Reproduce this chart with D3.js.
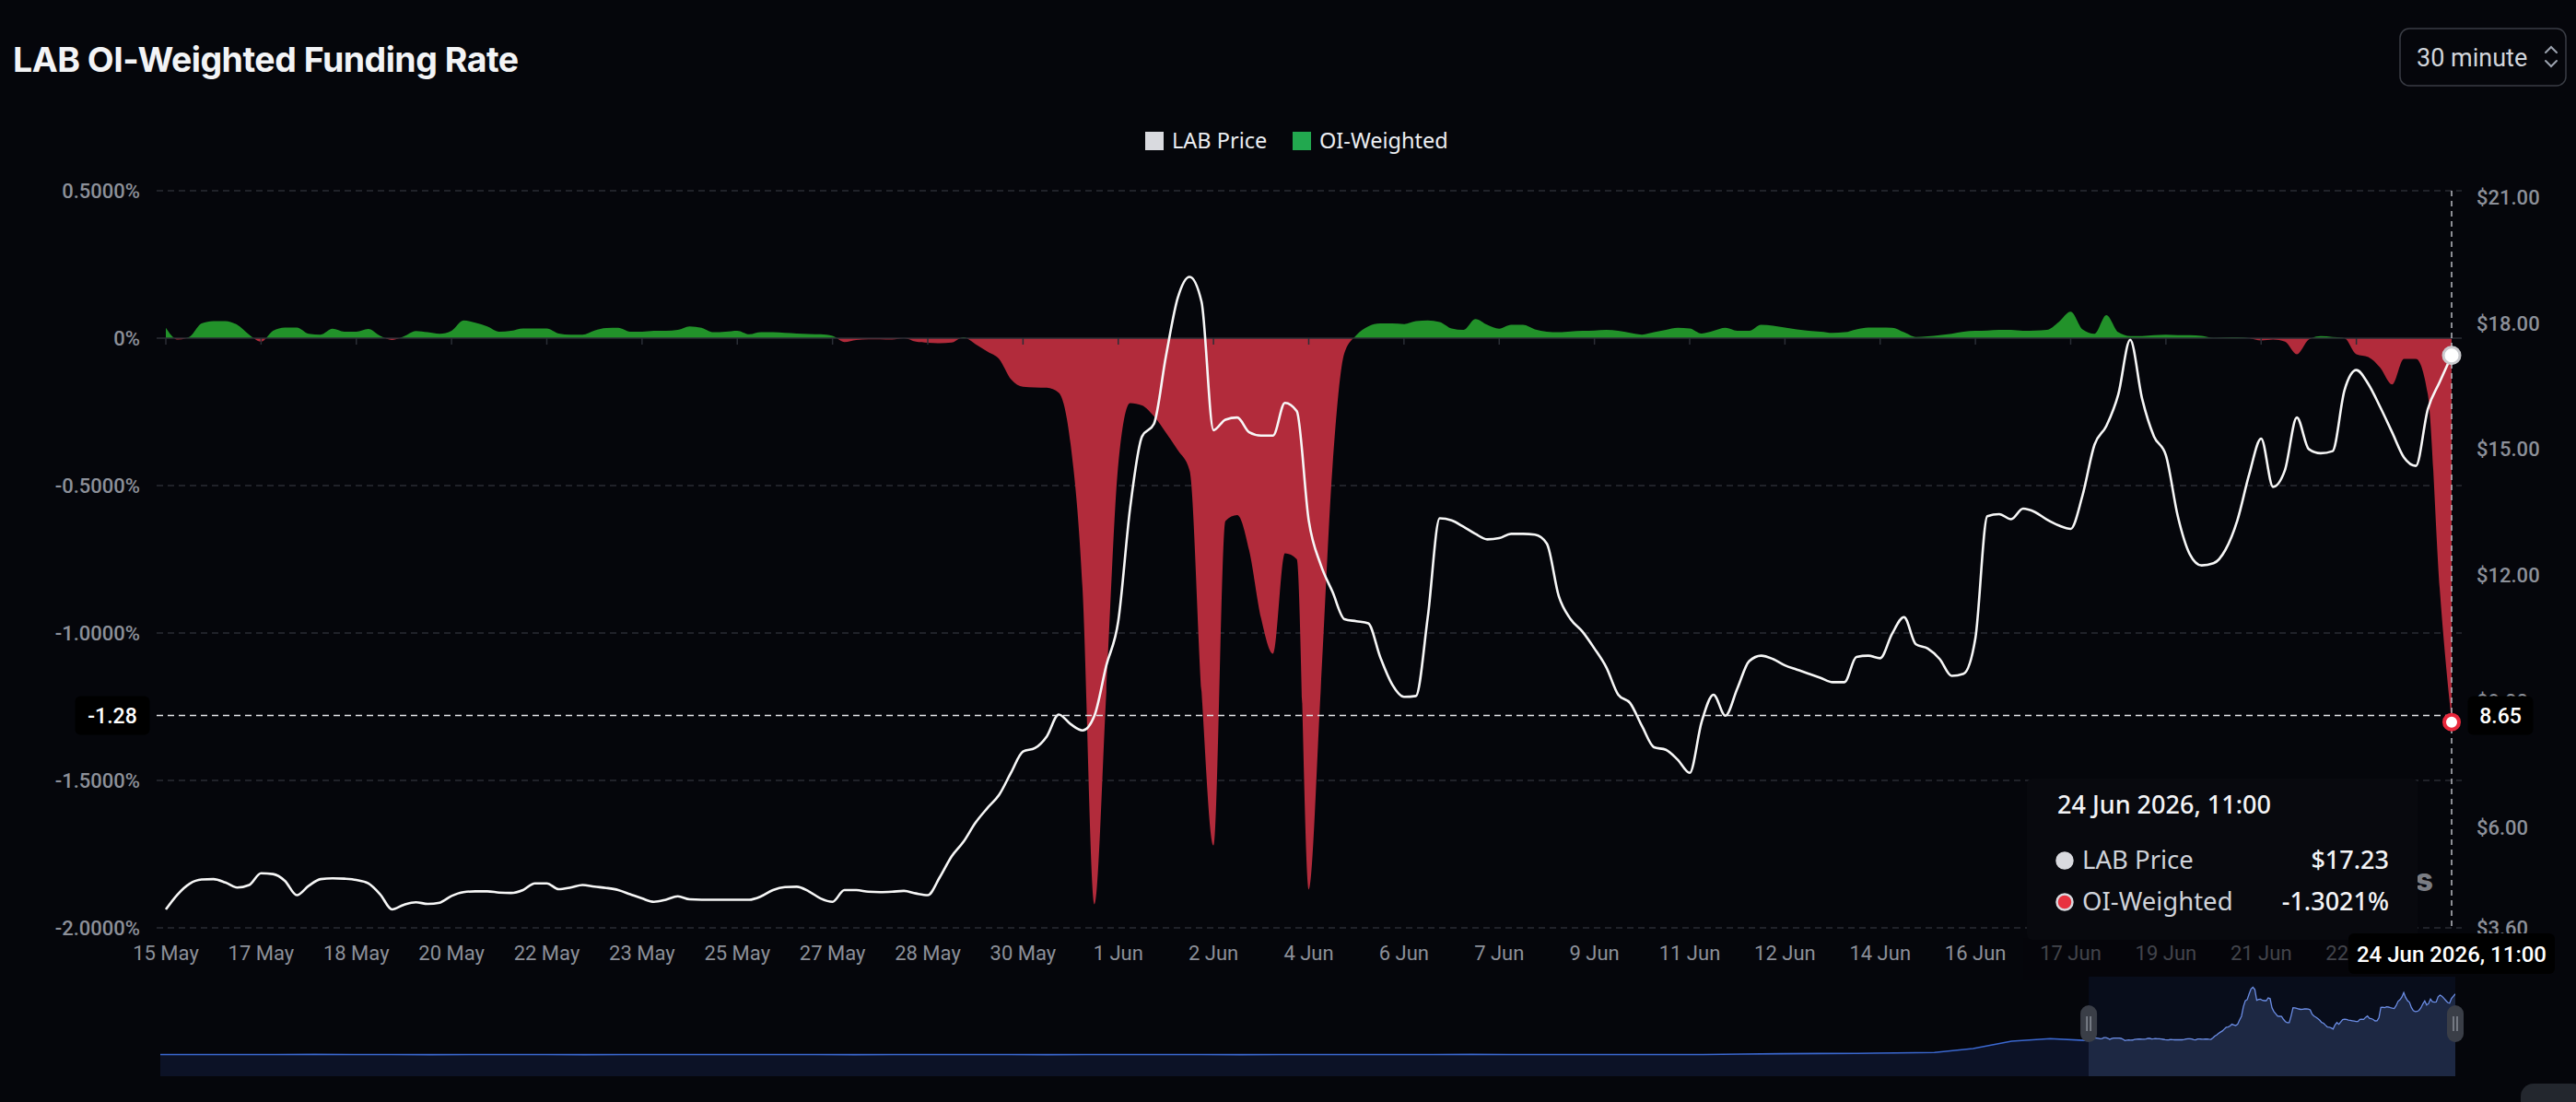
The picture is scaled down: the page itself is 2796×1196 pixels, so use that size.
<!DOCTYPE html>
<html><head><meta charset="utf-8">
<script src="https://cdn.jsdelivr.net/npm/d3@7"></script>
<style>html,body{margin:0;padding:0;background:#05060b;overflow:hidden}</style>
</head><body><svg id="c" width="2796" height="1196"></svg>
<script>
// ---------- DATA ----------
const chartTitle = "LAB OI-Weighted Funding Rate";
const intervalLabel = "30 minute";
const seriesNames = ["LAB Price", "OI-Weighted"];
const startTime = new Date(2026, 4, 15, 11, 0);
const stepHours = 5;
const tickIntervalHours = 40;
const xTickLabels = ["15 May","17 May","18 May","20 May","22 May","23 May","25 May","27 May","28 May","30 May",
  "1 Jun","2 Jun","4 Jun","6 Jun","7 Jun","9 Jun","11 Jun","12 Jun","14 Jun","16 Jun","17 Jun","19 Jun","21 Jun","22 Jun"];
const fundingTicks = [0.5, 0, -0.5, -1, -1.5, -2];
const fundingDomain = [-2, 0.5];
const priceTicks = [3.6, 6, 9, 12, 15, 18, 21];
const priceDomain = [3.6, 21.15];
const crosshairFunding = -1.28;

const labPrice = [4.04,4.40,4.65,4.75,4.76,4.68,4.56,4.62,4.90,4.88,
 4.72,4.38,4.60,4.76,4.78,4.77,4.74,4.66,4.40,4.04,
 4.15,4.21,4.17,4.20,4.36,4.45,4.47,4.47,4.44,4.43,
 4.50,4.66,4.66,4.52,4.56,4.62,4.58,4.55,4.50,4.40,
 4.30,4.22,4.27,4.35,4.28,4.27,4.27,4.27,4.27,4.27,
 4.35,4.50,4.57,4.58,4.47,4.30,4.22,4.50,4.50,4.46,
 4.45,4.46,4.48,4.42,4.38,4.80,5.30,5.65,6.10,6.45,
 6.77,7.30,7.80,7.88,8.16,8.68,8.45,8.30,8.65,9.85,
 10.90,13.60,15.30,15.60,17.20,18.60,19.10,18.50,15.45,15.70,
 15.75,15.40,15.32,15.32,16.10,15.90,13.30,12.25,11.60,10.95,
 10.90,10.85,10.05,9.40,9.10,9.12,11.00,13.35,13.30,13.15,
 12.98,12.85,12.88,12.98,12.98,12.96,12.75,11.50,10.95,10.65,
 10.25,9.80,9.15,8.95,8.40,7.90,7.84,7.60,7.29,8.50,
 9.15,8.65,9.30,9.95,10.08,10.00,9.85,9.75,9.65,9.55,
 9.45,9.45,10.05,10.08,10.02,10.60,11.00,10.35,10.25,10.00,
 9.60,9.65,10.50,13.40,13.45,13.33,13.58,13.50,13.32,13.18,
 13.10,13.90,15.10,15.55,16.30,17.60,16.20,15.30,14.85,13.40,
 12.50,12.23,12.28,12.60,13.30,14.40,15.25,14.10,14.50,15.75,
 15.00,14.90,14.95,16.40,16.88,16.55,16.00,15.40,14.80,14.60,
 15.95,16.60,17.23];

const oiWeighted = [0.035,-0.005,0.005,0.050,0.058,0.058,0.045,0.012,-0.012,0.025,
 0.036,0.036,0.015,0.012,0.032,0.022,0.022,0.031,0.008,-0.006,
 0.006,0.024,0.020,0.015,0.025,0.060,0.052,0.040,0.022,0.025,
 0.033,0.033,0.033,0.016,0.012,0.012,0.026,0.034,0.035,0.022,
 0.022,0.025,0.025,0.028,0.040,0.035,0.020,0.022,0.025,0.013,
 0.020,0.020,0.018,0.016,0.014,0.013,0.008,-0.013,-0.006,-0.004,
 -0.004,-0.005,0.000,-0.012,-0.016,-0.017,-0.015,0.003,-0.020,-0.045,
 -0.071,-0.140,-0.165,-0.167,-0.168,-0.185,-0.360,-0.850,-1.920,-1.200,
 -0.430,-0.220,-0.228,-0.265,-0.320,-0.380,-0.450,-1.200,-1.720,-0.620,
 -0.600,-0.720,-0.950,-1.070,-0.730,-0.750,-1.870,-1.200,-0.435,-0.050,
 0.010,0.040,0.050,0.050,0.048,0.058,0.060,0.055,0.033,0.028,
 0.065,0.045,0.032,0.045,0.045,0.030,0.022,0.020,0.023,0.025,
 0.026,0.028,0.025,0.018,0.012,0.020,0.028,0.035,0.033,0.016,
 0.025,0.035,0.025,0.025,0.045,0.042,0.036,0.030,0.025,0.022,
 0.018,0.020,0.030,0.036,0.036,0.035,0.020,0.004,0.006,0.010,
 0.015,0.022,0.025,0.026,0.028,0.028,0.025,0.026,0.028,0.055,
 0.090,0.030,0.015,0.078,0.020,0.007,0.007,0.010,0.012,0.010,
 0.010,0.008,0.001,0.002,0.003,0.000,-0.008,-0.005,-0.012,-0.055,
 -0.005,0.007,0.004,0.000,-0.055,-0.064,-0.100,-0.157,-0.070,-0.070,
 -0.190,-0.850,-1.3021];

// earlier history shown only in the navigator (price, every navStepHours)
const navStepHours = 101;
const navHistory = [0.12,0.10,0.10,0.11,0.13,0.12,0.10,0.09,0.10,0.11,
 0.10,0.09,0.10,0.10,0.12,0.11,0.10,0.10,0.09,0.10,
 0.10,0.11,0.10,0.09,0.10,0.12,0.10,0.10,0.09,0.10,
 0.10,0.11,0.10,0.12,0.13,0.11,0.10,0.10,0.11,0.10,
 0.12,0.25,0.35,0.40,0.45,0.55,0.70,1.80,3.90,4.60];

// ---------- CHART ----------
const svg = d3.select('#c');
const W = 2796, H = 1196;
const plot = {left:170, right:2672, top:207, bottom:1007};
const dataLeft = 180, dataRight = 2661;
const axisFont = "Roboto, 'Noto Sans', sans-serif";
const uiFont = "'Noto Sans', 'Open Sans', sans-serif";
const gridColor = "#2a2d34", axisText = "#8c9099";

svg.append('rect').attr('width', W).attr('height', H).attr('fill', '#05060b');

const times = labPrice.map((_, i) => d3.timeHour.offset(startTime, i * stepHours));
const endTime = times[times.length - 1];
const x = d3.scaleTime().domain([startTime, endTime]).range([dataLeft, dataRight]);
const yF = d3.scaleLinear().domain(fundingDomain).range([plot.bottom, plot.top]);
const yP = d3.scaleLinear().domain(priceDomain).range([plot.bottom, plot.top]);
const defs = svg.append('defs');

// Title
const title = svg.append('text').attr('x', 14).attr('y', 78)
  .attr('font-family', "Inter, 'Noto Sans', sans-serif").attr('font-weight', 700)
  .attr('font-size', 38).attr('fill', '#f3f4f6').attr('letter-spacing', -0.5).text(chartTitle);
{ const w = title.node().getComputedTextLength(); title.attr('font-size', 38 * 549 / w); }

// Interval selector
const sel = svg.append('g');
sel.append('rect').attr('x', 2605).attr('y', 31).attr('width', 180).attr('height', 62).attr('rx', 10)
  .attr('fill', 'none').attr('stroke', '#3a3d45').attr('stroke-width', 1.5);
sel.append('text').attr('x', 2623).attr('y', 72).attr('font-family', axisFont).attr('font-size', 27)
  .attr('fill', '#d1d5db').text(intervalLabel);
sel.append('path').attr('d', 'M2763,57 L2769,51 L2775,57 M2763,66 L2769,72 L2775,66')
  .attr('fill', 'none').attr('stroke', '#9ca3af').attr('stroke-width', 2).attr('stroke-linecap', 'round');

// Legend
const legendColors = ['#d9dadf', '#22a84f'];
const legendX = [1243, 1403];
seriesNames.forEach((n, i) => {
  svg.append('rect').attr('x', legendX[i]).attr('y', 143).attr('width', 20).attr('height', 20).attr('fill', legendColors[i]);
  svg.append('text').attr('x', legendX[i] + 29).attr('y', 161).attr('font-family', uiFont).attr('font-size', 23.5)
    .attr('fill', '#eceef2').text(n);
});

// Grid
fundingTicks.filter(d => d !== 0).forEach(d => {
  svg.append('line').attr('x1', plot.left).attr('x2', plot.right).attr('y1', yF(d)).attr('y2', yF(d))
    .attr('stroke', gridColor).attr('stroke-width', 1.5).attr('stroke-dasharray', '7,5');
});

// Left axis labels
fundingTicks.forEach(d => {
  svg.append('text').attr('x', 152).attr('y', yF(d)).attr('dy', '0.36em').attr('text-anchor', 'end')
    .attr('font-family', axisFont).attr('font-weight', 500).attr('font-size', 22).attr('fill', axisText)
    .text(d === 0 ? '0%' : d.toFixed(4) + '%');
});
// Right axis labels
priceTicks.forEach(d => {
  svg.append('text').attr('x', 2688).attr('y', yP(d)).attr('dy', '0.36em')
    .attr('font-family', axisFont).attr('font-weight', 500).attr('font-size', 22).attr('fill', axisText)
    .text('$' + d.toFixed(2));
});

// Funding areas (green above zero, red below)
defs.append('clipPath').attr('id', 'clipPos').append('rect')
  .attr('x', plot.left).attr('y', plot.top - 50).attr('width', plot.right - plot.left).attr('height', yF(0) - plot.top + 50);
defs.append('clipPath').attr('id', 'clipNeg').append('rect')
  .attr('x', plot.left).attr('y', yF(0)).attr('width', plot.right - plot.left).attr('height', plot.bottom - yF(0) + 20);
const area = d3.area().x((d, i) => x(times[i])).y0(yF(0)).y1(d => yF(d)).curve(d3.curveMonotoneX);
svg.append('path').datum(oiWeighted).attr('d', area).attr('fill', '#22922a').attr('clip-path', 'url(#clipPos)');
svg.append('path').datum(oiWeighted).attr('d', area).attr('fill', '#b22b3b').attr('clip-path', 'url(#clipNeg)');

// x axis line on zero with ticks
svg.append('line').attr('x1', plot.left).attr('x2', plot.right).attr('y1', yF(0)).attr('y2', yF(0))
  .attr('stroke', '#2b2e36').attr('stroke-width', 1.5);
xTickLabels.forEach((lab, k) => {
  const t = d3.timeHour.offset(startTime, k * tickIntervalHours);
  const px = x(t);
  svg.append('line').attr('x1', px).attr('x2', px).attr('y1', yF(0)).attr('y2', yF(0) + 7)
    .attr('stroke', '#2b2e36').attr('stroke-width', 1.5);
  svg.append('text').attr('x', px).attr('y', 1042).attr('text-anchor', 'middle')
    .attr('font-family', axisFont).attr('font-size', 22).attr('fill', axisText).text(lab);
});

// Price line
const line = d3.line().x((d, i) => x(times[i])).y(d => yP(d)).curve(d3.curveMonotoneX);
svg.append('path').datum(labPrice).attr('d', line).attr('fill', 'none').attr('stroke', '#f7f7f7')
  .attr('stroke-width', 2.6).attr('stroke-linejoin', 'round');

// Watermark (only its tail shows beside the tooltip)
defs.append('clipPath').attr('id', 'clipWm').append('rect').attr('x', 2624).attr('y', 900).attr('width', 60).attr('height', 100);
svg.append('text').attr('x', 2641).attr('y', 967).attr('text-anchor', 'end').attr('clip-path', 'url(#clipWm)')
  .attr('font-family', "Inter, sans-serif").attr('font-weight', 800).attr('font-size', 34)
  .attr('fill', '#7a7d84').text('CoinGlass');

// Crosshair
const lastX = x(endTime);
const chY = yF(crosshairFunding);
svg.append('line').attr('x1', lastX).attr('x2', lastX).attr('y1', plot.top).attr('y2', plot.bottom)
  .attr('stroke', '#b9bcc2').attr('stroke-width', 1.5).attr('stroke-dasharray', '6,5');
svg.append('line').attr('x1', plot.left).attr('x2', lastX).attr('y1', chY).attr('y2', chY)
  .attr('stroke', '#e6e7ea').attr('stroke-width', 1.5).attr('stroke-dasharray', '7,5');

// Markers on last point
const lastP = labPrice[labPrice.length - 1], lastF = oiWeighted[oiWeighted.length - 1];
svg.append('circle').attr('cx', lastX).attr('cy', yP(lastP)).attr('r', 9).attr('fill', '#ffffff')
  .attr('stroke', '#c9cace').attr('stroke-width', 3);
svg.append('circle').attr('cx', lastX).attr('cy', yF(lastF)).attr('r', 8).attr('fill', '#ffffff')
  .attr('stroke', '#e8283c').attr('stroke-width', 4);

// Crosshair value labels
function tag(cx, cy, w, h, txt, fs) {
  svg.append('rect').attr('x', cx - w / 2).attr('y', cy - h / 2).attr('width', w).attr('height', h).attr('rx', 6).attr('fill', '#000');
  svg.append('text').attr('x', cx).attr('y', cy).attr('dy', '0.36em').attr('text-anchor', 'middle')
    .attr('font-family', axisFont).attr('font-weight', 500).attr('font-size', fs).attr('fill', '#ffffff').text(txt);
}
tag(122, chY, 81, 42, crosshairFunding.toFixed(2), 23);
tag(2714, chY, 71, 42, yP.invert(chY).toFixed(2), 23);

// Tooltip
svg.append('rect').attr('x', 2196).attr('y', 1018).attr('width', 432).attr('height', 46).attr('fill', 'rgba(5,6,11,0.55)');
svg.append('rect').attr('x', 2200).attr('y', 845).attr('width', 424).attr('height', 175).attr('rx', 6).attr('fill', '#08090e');
const fmtFull = d3.timeFormat('%-d %b %Y, %H:%M');
svg.append('text').attr('x', 2233).attr('y', 883).attr('font-family', uiFont).attr('font-weight', 500)
  .attr('font-size', 27).attr('fill', '#f3f4f6').text(fmtFull(endTime));
const rows = [
  {name: seriesNames[0], val: '$' + lastP.toFixed(2), fill: '#d9dadf', stroke: '#d9dadf', y: 943},
  {name: seriesNames[1], val: lastF.toFixed(4) + '%', fill: '#e8323f', stroke: '#d9dadf', y: 988}
];
rows.forEach(r => {
  svg.append('circle').attr('cx', 2241).attr('cy', r.y - 9).attr('r', 8.5).attr('fill', r.fill)
    .attr('stroke', r.stroke).attr('stroke-width', 2.5);
  svg.append('text').attr('x', 2260).attr('y', r.y).attr('font-family', uiFont).attr('font-size', 27.5)
    .attr('fill', '#cfd3da').text(r.name);
  svg.append('text').attr('x', 2593).attr('y', r.y).attr('text-anchor', 'end').attr('font-family', uiFont)
    .attr('font-weight', 500).attr('font-size', 27).attr('fill', '#f3f4f6').text(r.val);
});

// Bottom time label
svg.append('rect').attr('x', lastX - 112).attr('y', 1013).attr('width', 224).attr('height', 44).attr('rx', 6).attr('fill', '#000');
svg.append('text').attr('x', lastX).attr('y', 1044).attr('text-anchor', 'middle').attr('font-family', axisFont)
  .attr('font-weight', 500).attr('font-size', 24).attr('fill', '#ffffff').text(fmtFull(endTime));

// ---------- NAVIGATOR ----------
const navTimes = navHistory.map((_, k) => d3.timeHour.offset(startTime, -(navHistory.length - k) * navStepHours));
const navData = navHistory.map((v, k) => ({t: navTimes[k], v})).concat(labPrice.map((v, i) => ({t: times[i], v})));
const nx = d3.scaleTime().domain([navTimes[0], endTime]).range([174, 2665]);
const ny = d3.scaleLinear().domain([-6, 20]).range([1168, 1068]);
const selX0 = nx(startTime), selX1 = nx(endTime);
svg.append('rect').attr('x', selX0).attr('y', 1060).attr('width', selX1 - selX0).attr('height', 108).attr('fill', '#080d1b');
defs.append('clipPath').attr('id', 'clipSel').append('rect').attr('x', selX0).attr('y', 1000).attr('width', selX1 - selX0).attr('height', 200);
defs.append('clipPath').attr('id', 'clipUnsel').append('rect').attr('x', 0).attr('y', 1000).attr('width', selX0).attr('height', 200);
const navArea = d3.area().x(d => nx(d.t)).y0(1168).y1(d => ny(d.v));
const navLine = d3.line().x(d => nx(d.t)).y(d => ny(d.v));
svg.append('path').datum(navData).attr('d', navArea).attr('fill', '#0c1226').attr('clip-path', 'url(#clipUnsel)');
svg.append('path').datum(navData).attr('d', navArea).attr('fill', '#1d2843').attr('clip-path', 'url(#clipSel)');
svg.append('path').datum(navData).attr('d', navLine).attr('fill', 'none').attr('stroke', '#3b68d0').attr('stroke-width', 1.6).attr('clip-path', 'url(#clipUnsel)');
svg.append('path').datum(navData).attr('d', navLine).attr('fill', 'none').attr('stroke', '#6c8ee6').attr('stroke-width', 1.3).attr('clip-path', 'url(#clipSel)');
[selX0, selX1].forEach(hx => {
  svg.append('rect').attr('x', hx - 9).attr('y', 1091).attr('width', 18).attr('height', 40).attr('rx', 9).attr('fill', '#3a3e47');
  svg.append('path').attr('d', `M${hx - 2},1103 V1119 M${hx + 2},1103 V1119`).attr('stroke', '#9aa0aa').attr('stroke-width', 1.2);
});
// corner widget
svg.append('rect').attr('x', 2736).attr('y', 1176).attr('width', 70).attr('height', 50).attr('rx', 14).attr('fill', '#23272e');
</script></body></html>
